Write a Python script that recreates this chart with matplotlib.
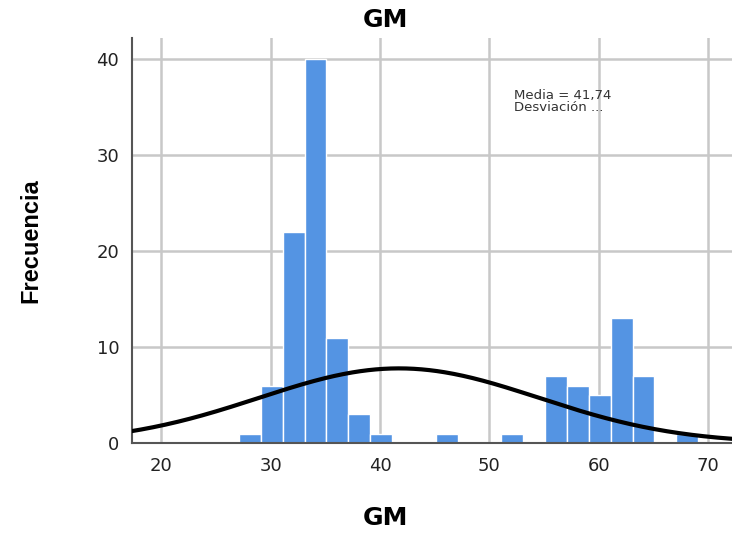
import matplotlib
matplotlib.use("Agg")
import matplotlib.pyplot as plt
import numpy as np

plt.rcParams['font.family'] = ['DejaVu Sans']

# histogram bins (lower edge) and counts
bin_lower = [27.1, 29.1, 31.1, 33.1, 35.1, 37.1, 39.1, 45.1, 51.1, 55.1, 57.1, 59.1, 61.1, 63.1, 67.1]
counts = [1, 6, 22, 40, 11, 3, 1, 1, 1, 7, 6, 5, 13, 7, 1]
bin_width = 2.0

media = 41.74
desviacion = 12.8
n_total = sum(counts)

x_ticks = [20, 30, 40, 50, 60, 70]
y_ticks = [0, 10, 20, 30, 40]

fig = plt.figure(figsize=(7.32, 5.34), dpi=100)
ax = fig.add_axes([0.180, 0.170, 0.82, 0.759])

ax.bar(bin_lower, counts, width=bin_width, align='edge', color='#5494E3',
       edgecolor='white', linewidth=1.0, zorder=2)

# curva normal
xs = np.linspace(17, 73, 400)
ys = n_total * bin_width / (desviacion * np.sqrt(2 * np.pi)) * np.exp(-0.5 * ((xs - media) / desviacion) ** 2)
ax.plot(xs, ys, color='black', linewidth=3, zorder=3)

ax.set_xlim(17.3, 72.2)
ax.set_ylim(0, 42.2)
ax.set_xticks(x_ticks)
ax.set_yticks(y_ticks)
ax.grid(True, color='#c8c8c8', linewidth=1.8, zorder=0)
ax.set_axisbelow(True)
ax.tick_params(length=0, labelsize=13, colors='#222222')
ax.tick_params(axis='y', pad=9)
ax.tick_params(axis='x', pad=10)

for side in ['top', 'right']:
    ax.spines[side].set_visible(False)
for side in ['left', 'bottom']:
    ax.spines[side].set_color('#555555')
    ax.spines[side].set_linewidth(1.5)

ax.text(52.3, 36.9, "Media = 41,74\nDesviación ...", fontsize=9.5, color='#333333',
        va='top', linespacing=0.9)

fig.text(0.527, 0.963, "GM", ha='center', va='center', fontsize=18, fontweight='bold')
fig.text(0.527, 0.030, "GM", ha='center', va='center', fontsize=18, fontweight='bold')
fig.text(0.042, 0.55, "Frecuencia", ha='center', va='center', rotation=90,
         fontsize=17, fontweight='bold', family=['Liberation Sans Narrow', 'Liberation Sans'])

fig.savefig("out.png", dpi=100)
